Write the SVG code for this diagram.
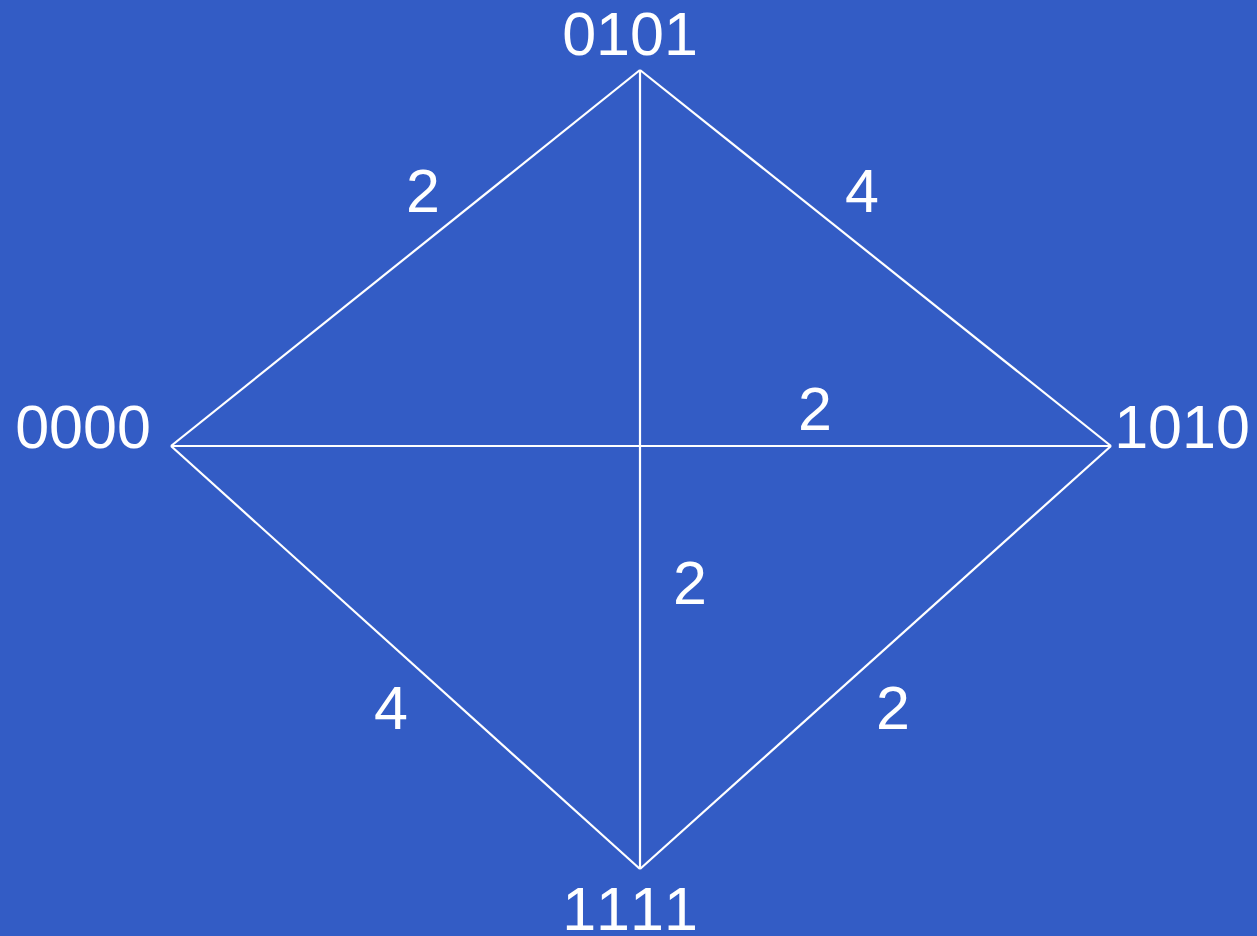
<svg xmlns="http://www.w3.org/2000/svg" width="1257" height="936" viewBox="0 0 1257 936">
<style>
.e{stroke:#fff;stroke-width:2.2;fill:none}
text{font-family:"Liberation Sans",Arial,sans-serif;font-size:61px;fill:#fff;text-anchor:middle;font-kerning:none}
</style>
<rect width="1257" height="936" fill="#335CC5"/>
<g id="connectors">
<line class="e" x1="171" y1="446" x2="640" y2="70"/>
<line class="e" x1="640" y1="70" x2="1111" y2="446"/>
<line class="e" x1="640" y1="70" x2="640" y2="869"/>
<line class="e" x1="171" y1="446" x2="1111" y2="446"/>
<line class="e" x1="171" y1="446" x2="640" y2="869"/>
<line class="e" x1="1111" y1="446" x2="640" y2="869"/>
<text x="423" y="212">2</text>
<text x="862" y="212">4</text>
<text x="815" y="430">2</text>
<text x="690" y="604">2</text>
<text x="391" y="729">4</text>
<text x="893" y="729">2</text>
</g>
<g id="n0101"><text x="630" y="55">0101</text></g>
<g id="n0000"><text x="83" y="448">0000</text></g>
<g id="n1010"><text x="1182" y="448">1010</text></g>
<g id="n1111"><text x="630" y="930">1111</text></g>
</svg>
